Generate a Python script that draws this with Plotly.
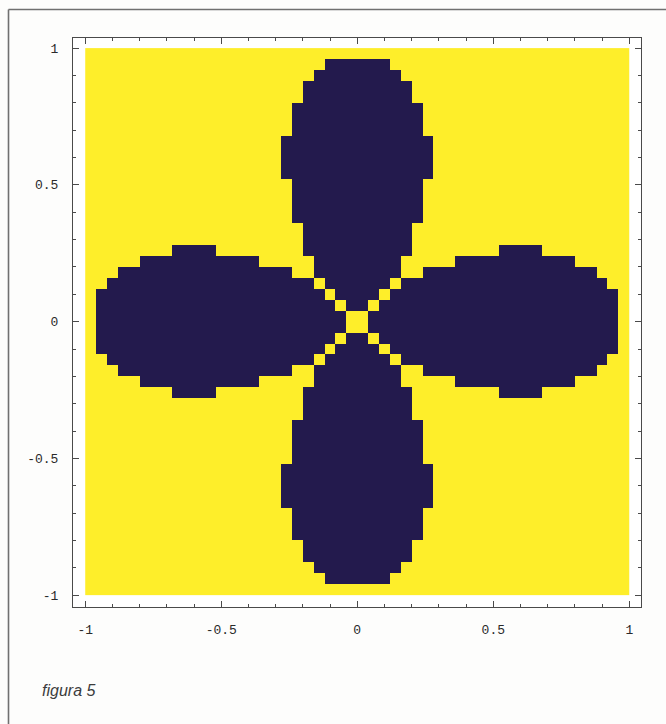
import numpy as np
import plotly.graph_objects as go

# Region plot on a 50 x 50 sampling grid over [-1, 1] x [-1, 1].
# Each row (top to bottom) lists the column spans (inclusive) that lie inside the region.
grid_n = 50
dark_spans = [
    [],
    [(22, 27)],
    [(21, 28)],
    [(20, 29)],
    [(20, 29)],
    [(19, 30)],
    [(19, 30)],
    [(19, 30)],
    [(18, 31)],
    [(18, 31)],
    [(18, 31)],
    [(18, 31)],
    [(19, 30)],
    [(19, 30)],
    [(19, 30)],
    [(19, 30)],
    [(20, 29)],
    [(20, 29)],
    [(8, 11), (20, 29), (38, 41)],
    [(5, 15), (21, 28), (34, 44)],
    [(3, 18), (21, 28), (31, 46)],
    [(2, 20), (22, 27), (29, 47)],
    [(1, 21), (23, 26), (28, 48)],
    [(1, 22), (24, 25), (27, 48)],
    [(1, 23), (26, 48)],
    [(1, 23), (26, 48)],
    [(1, 22), (24, 25), (27, 48)],
    [(1, 21), (23, 26), (28, 48)],
    [(2, 20), (22, 27), (29, 47)],
    [(3, 18), (21, 28), (31, 46)],
    [(5, 15), (21, 28), (34, 44)],
    [(8, 11), (20, 29), (38, 41)],
    [(20, 29)],
    [(20, 29)],
    [(19, 30)],
    [(19, 30)],
    [(19, 30)],
    [(19, 30)],
    [(18, 31)],
    [(18, 31)],
    [(18, 31)],
    [(18, 31)],
    [(19, 30)],
    [(19, 30)],
    [(19, 30)],
    [(20, 29)],
    [(20, 29)],
    [(21, 28)],
    [(22, 27)],
    [],
]

tick_vals = [-1, -0.5, 0, 0.5, 1]
tick_text = ["-1", "-0.5", "0", "0.5", "1"]
caption = "figura 5"

YELLOW = "#FEEE2A"
NAVY = "#231A4D"

# cell centres of the sampling grid
cell = 2.0 / grid_n
xs = -1 + cell * (np.arange(grid_n) + 0.5)
ys = 1 - cell * (np.arange(grid_n) + 0.5)

z = np.zeros((grid_n, grid_n))
for r, spans in enumerate(dark_spans):
    for a, b in spans:
        z[r, a:b + 1] = 1

fig = go.Figure(
    go.Heatmap(
        x=xs, y=ys, z=z,
        zmin=0, zmax=1,
        colorscale=[[0, YELLOW], [1, NAVY]],
        showscale=False, zsmooth=False, hoverinfo="skip",
    )
)

axis_common = dict(
    showgrid=False, zeroline=False,
    showline=True, linecolor="#4a4a4a", linewidth=1, mirror="ticks",
    ticks="inside", ticklen=6, tickwidth=1, tickcolor="#4a4a4a",
    minor=dict(ticks="inside", ticklen=3, tickwidth=1, tickcolor="#4a4a4a",
               dtick=0.1, tick0=0, showgrid=False),
    tickmode="array", tickvals=tick_vals, ticktext=tick_text,
    tickfont=dict(family="Liberation Mono", size=13, color="#2a2a2a"),
)

fig.update_xaxes(range=[-1.045, 1.043], ticklabelstandoff=10, **axis_common)
fig.update_yaxes(range=[-1.043, 1.037], ticklabelstandoff=11, **axis_common)

L, T, W, H = 73, 38, 568, 569
FW, FH = 666, 724


def px_x(p):
    return (p - L) / W


def px_y(p):
    return (T + H - p) / H


border = dict(color="#707070", width=1.6)
fig.add_shape(type="line", xref="paper", yref="paper",
              x0=px_x(8.5), x1=px_x(8.5), y0=px_y(9.5), y1=px_y(FH + 5), line=border)
fig.add_shape(type="line", xref="paper", yref="paper",
              x0=px_x(8.5), x1=px_x(FW + 5), y0=px_y(9.5), y1=px_y(9.5), line=border)

fig.add_annotation(
    text=f"<i>{caption}</i>", xref="paper", yref="paper",
    x=px_x(40), y=px_y(690), xanchor="left", yanchor="middle",
    showarrow=False,
    font=dict(family="Liberation Sans", size=16, color="#3c3c3c"),
)

fig.update_layout(
    width=FW, height=FH,
    margin=dict(l=L, r=FW - L - W, t=T, b=FH - T - H),
    paper_bgcolor="#FDFDFC", plot_bgcolor="#FFFFFF",
    showlegend=False,
)

fig.write_html("out.html")
